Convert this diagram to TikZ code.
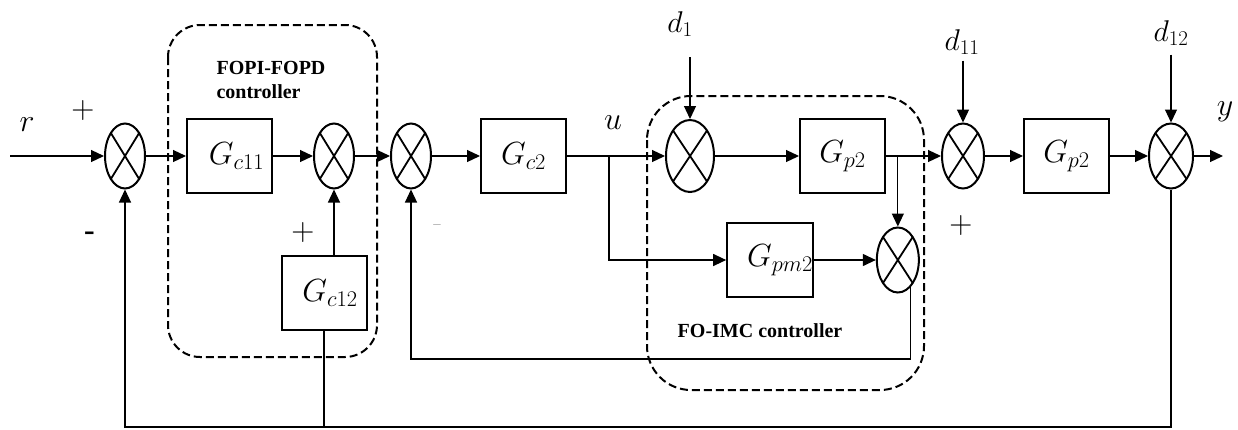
\RequirePackage{fix-cm}
\documentclass[tikz,border=0pt]{standalone}
\usepackage{fontspec}
\newfontfamily\tnr{Liberation Serif}
\usetikzlibrary{arrows.meta,positioning,shapes.geometric}

\begin{document}
\begin{tikzpicture}[x=1pt, y=-1pt, node distance=40pt, font=\fontsize{32}{38}\selectfont]
\tikzstyle{tf}=[draw, line width=2pt, minimum width=85pt, minimum height=74pt, inner sep=0pt]
\tikzstyle{sj}=[draw, ellipse, line width=2pt, minimum width=40pt, minimum height=65pt, inner sep=0pt, path picture={\draw[line width=1.8pt] (path picture bounding box.north west) -- (path picture bounding box.south east) (path picture bounding box.north east) -- (path picture bounding box.south west);}]
\tikzstyle{arr}=[line width=1.2pt, -{Triangle[length=13pt,width=12pt]}]
\tikzstyle{ln}=[line width=1.2pt]
\tikzstyle{grp}=[line width=2pt, dash pattern=on 8pt off 4pt]
\tikzstyle{sgn}=[font=\fontsize{32}{34}\selectfont]
\tikzstyle{dst}=[font=\fontsize{30}{34}\selectfont]
\tikzstyle{ctl}=[font=\fontsize{20}{24}\selectfont\tnr\bfseries, align=left]
\useasboundingbox (0,0) rectangle (1238,429);

% controller groups
\draw[grp, rounded corners=32pt] (168,25) rectangle (377,357);
\draw[grp, rounded corners=44pt] (647,96) rectangle (924,390);
\node[ctl, anchor=west] (fopi) at (213,80) {FOPI-FOPD\\controller};
\node[ctl] (foimc) at (760,331) {FO-IMC controller};

% main row
\coordinate (rin) at (10,156);
\node[sj] (s1) at (125,156) {};
\node[tf, right=40pt of s1] (gc11) {\hspace*{14pt}$G_{c11}$};
\node[sj, right=40pt of gc11] (s2) {};
\node[sj, right=35pt of s2] (s3) {};
\node[tf, right=48pt of s3] (gc2) {$G_{c2}$};
\node[sj, minimum width=48pt, minimum height=72pt, right=98pt of gc2] (s4) {};
\node[tf, right=84pt of s4] (gp2) {$G_{p2}$};
\node[sj, minimum width=42pt, right=55pt of gp2] (s6) {};
\node[tf, right=38pt of s6] (gp2b) {$G_{p2}$};
\node[sj, minimum width=44pt, right=38pt of gp2b] (s7) {};
\coordinate (yout) at (1223,156);

% lower blocks
\node[tf] (gc12) at (324,293) {\hspace*{12pt}$G_{c12}$};
\node[tf] (gpm2) at (770,260) {\hspace*{20pt}$G_{pm2}$};
\node[sj, minimum width=42pt, right=62pt of gpm2] (s5) {};

% disturbances
\coordinate[above=62pt of s4] (d1in);
\coordinate[above=62pt of s6] (d11in);
\coordinate[above=68pt of s7] (d12in);
\node[dst] (d1) at (680,24) {$d_1$};
\node[dst] (d11) at (962,42) {$d_{11}$};
\node[dst] (d12) at (1171,33) {$d_{12}$};

% signals and signs
\node (r) at (27,125) {$r$};
\node (u) at (613,123) {$u$};
\node (y) at (1225,112) {$y$};
\node[sgn] (p1) at (83,110) {$+$};
\node[sgn, font=\fontsize{28}{30}\selectfont\bfseries] (m1) at (90,236) {-};
\node[sgn] (p2) at (303,232) {$+$};
\node[font=\fontsize{16}{18}\selectfont] (m3) at (437,227) {\textendash};
\node[sgn] (p6) at (961,225) {$+$};

% forward path
\draw[arr] (rin) -- (s1);
\draw[arr] (s1) -- (gc11);
\draw[arr] (gc11) -- (s2);
\draw[arr] (s2) -- (s3);
\draw[arr] (s3) -- (gc2);
\draw[arr] (gc2) -- (s4);
\draw[arr] (s4) -- (gp2);
\draw[arr] (gp2) -- (s6);
\draw[arr] (s6) -- (gp2b);
\draw[arr] (gp2b) -- (s7);
\draw[arr] (s7) -- (yout);
\draw[arr] (d1in) -- (s4.north);
\draw[arr] (d11in) -- (s6.north);
\draw[arr] (d12in) -- (s7.north);

% internal model branch
\coordinate (ubr) at (609,156);
\draw[arr] (ubr) |- (gpm2.west);
\draw[arr] (gpm2) -- (s5);
\draw[arr] (s5.north |- gp2.east) -- (s5.north);
\draw[arr] (gc12.north -| s2.south) -- (s2.south);

% feedback
\coordinate (imcfb) at (0,359);
\coordinate (fb) at (0,427);
\draw[arr] (s5.-65) -- (s5.-65 |- imcfb) -| (s3.south);
\draw[arr] (s7.south) -- (s7.south |- fb) -| (s1.south);
\draw[ln] (gc12.south) -- (gc12.south |- fb);
\end{tikzpicture}
\end{document}
